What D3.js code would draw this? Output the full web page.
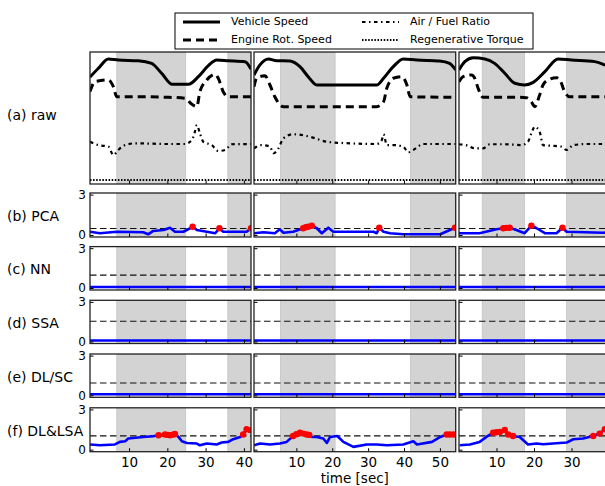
<!DOCTYPE html>
<html><head><meta charset="utf-8">
<script src="https://cdn.jsdelivr.net/npm/d3@7"></script>
<style>body{margin:0;background:#fff} svg{display:block;font-family:"DejaVu Sans",sans-serif}</style>
</head><body><svg id="c" width="605" height="486"></svg>
<script>
// ---------------- data ----------------
const rowLabels = ["(a) raw","(b) PCA","(c) NN","(d) SSA","(e) DL/SC","(f) DL&LSA"];
const legendLabels = ["Vehicle Speed","Engine Rot. Speed","Air / Fuel Ratio","Regenerative Torque"];
const xLabel = "time [sec]";
const xTicks = [[10,20,30,40],[10,20,30,40,50],[10,20,30]];
const yTicks = [0,3];
const xDomains = [[-0.2,41.85],[-1.8,54.4],[0,40.8]];
const shaded1 = [[6.8,24.8],[35.8,42]];
const shaded2 = [[5.6,20.8],[41.8,55]];
const shaded3 = [[6.2,17.5],[28.7,41]];
const thresholds = [0.48,0.97,1.53,0.93,1.03];

const speed1 = [[-0.2,0.81],[2.0,0.877],[4.6,0.947],[7.2,0.939],[12.4,0.934],[15.9,0.914],[18.5,0.839],[21.3,0.755],[25.5,0.755],[28.1,0.813],[30.7,0.896],[32.9,0.939],[35.9,0.934],[40.3,0.927],[41.85,0.87]];
const engine1 = [[-0.2,0.70],[1.1,0.775],[4.6,0.788],[5.9,0.737],[6.8,0.661],[11.6,0.661],[20.3,0.657],[24.6,0.649],[26.4,0.604],[27.7,0.586],[28.5,0.699],[30.3,0.788],[32.5,0.831],[33.3,0.801],[34.6,0.699],[35.9,0.661],[41.85,0.661]];
const afr1 = [[-0.2,0.320],[2.0,0.295],[4.6,0.283],[5.9,0.220],[7.2,0.258],[9.0,0.295],[11.6,0.308],[20.3,0.303],[24.6,0.303],[26.4,0.333],[27.2,0.396],[27.7,0.447],[28.5,0.384],[29.4,0.320],[31.6,0.295],[33.3,0.250],[35.1,0.258],[36.8,0.301],[41.85,0.303]];
const torque1 = [[-0.2,0.03],[41.85,0.03]];

const speed2 = [[-1.8,0.826],[-0.14,0.902],[2.2,0.947],[4.5,0.934],[8.2,0.932],[11.0,0.889],[13.3,0.813],[15.7,0.750],[25.0,0.750],[32.4,0.750],[34.3,0.801],[37.0,0.889],[39.8,0.947],[43.6,0.939],[49.9,0.932],[52.7,0.914],[54.4,0.864]];
const engine2 = [[-1.8,0.737],[-1.06,0.801],[1.26,0.820],[2.65,0.750],[4.0,0.661],[6.4,0.586],[32.4,0.586],[34.3,0.623],[35.2,0.725],[37.0,0.801],[39.4,0.813],[40.8,0.750],[41.7,0.661],[54.4,0.657]];
const afr2 = [[-1.8,0.270],[0.33,0.295],[2.65,0.283],[3.6,0.233],[5.0,0.270],[6.4,0.346],[9.1,0.377],[13.8,0.358],[18.5,0.320],[25.0,0.308],[32.4,0.303],[33.8,0.333],[34.3,0.377],[35.2,0.295],[37.0,0.295],[39.8,0.283],[41.2,0.240],[42.6,0.258],[45.4,0.303],[54.4,0.303]];
const torque2 = [[-1.8,0.03],[54.4,0.03]];

const speed3 = [[0,0.864],[1.55,0.927],[3.8,0.957],[6.9,0.947],[9.5,0.914],[12.2,0.839],[14.9,0.763],[17.5,0.750],[19.8,0.770],[22.9,0.851],[26.4,0.947],[30.0,0.939],[36.2,0.927],[38.9,0.902],[40.8,0.88]];
const engine3 = [[0,0.775],[1.1,0.813],[3.3,0.826],[4.2,0.801],[5.1,0.725],[6.4,0.657],[14.9,0.657],[18.0,0.654],[19.3,0.623],[20.2,0.586],[21.5,0.674],[22.4,0.750],[23.8,0.788],[26.0,0.805],[26.9,0.788],[28.2,0.699],[29.5,0.661],[40.8,0.661]];
const afr3 = [[0,0.301],[2.4,0.290],[4.2,0.270],[6.4,0.270],[8.2,0.301],[12.2,0.301],[16.7,0.295],[18.4,0.320],[19.3,0.384],[20.2,0.434],[21.5,0.396],[22.4,0.295],[24.6,0.290],[27.3,0.283],[28.7,0.258],[30.5,0.295],[34.5,0.303],[40.8,0.303]];
const torque3 = [[0,0.03],[40.8,0.03]];

const pca1 = [[-0.2,0.24],[2.4,0.13],[6.8,0.24],[13.7,0.2],[15.0,0.05],[16.3,0.3],[19.0,0.37],[20.7,0.54],[22.0,0.24],[24.2,0.24],[26.6,0.61],[27.7,0.37],[30.3,0.24],[32.5,0.13],[33.6,0.5],[34.6,0.24],[40.7,0.24],[41.85,0.5]];
const pcaRed1 = [[26.6,0.61],[33.6,0.5],[41.85,0.5]];
const pca2 = [[-1.8,0.13],[0.8,0.2],[4.0,0.13],[5.4,0.42],[6.4,0.17],[9.1,0.24],[11.9,0.5],[13.3,0.61],[14.3,0.69],[15.7,0.5],[17.1,0.13],[18.9,0.54],[20.3,0.24],[31.5,0.24],[32.4,0.13],[33.1,0.54],[34.3,0.24],[36.1,0.13],[39.8,0.05],[50.1,0.05],[54.2,0.54]];
const pcaRed2 = [[11.9,0.5],[12.6,0.58],[13.3,0.61],[14.3,0.69],[33.1,0.54],[54.2,0.54]];
const pca3 = [[0,0.13],[5.5,0.13],[10.0,0.42],[11.8,0.5],[13.5,0.54],[15.3,0.37],[17.5,0.13],[19.3,0.69],[20.7,0.5],[22.9,0.13],[26.0,0.13],[27.6,0.54],[28.7,0.24],[38.4,0.17],[40.8,0.2]];
const pcaRed3 = [[11.8,0.5],[12.6,0.53],[13.5,0.54],[19.3,0.69],[27.6,0.54]];

const nn = [[-2,0.08],[56,0.08]];
const ssa = [[-2,0.08],[56,0.08]];
const dlsc = [[-2,0.08],[56,0.08]];

const lsa1 = [[-0.2,0.39],[2.4,0.33],[6.3,0.39],[7.6,0.58],[9.0,0.63],[9.8,0.83],[11.1,0.87],[13.7,0.95],[16.3,1.0],[17.7,1.07],[19.4,1.13],[20.7,1.07],[22.0,1.17],[22.9,0.95],[23.8,0.63],[25.1,0.5],[27.7,0.46],[28.5,0.33],[30.3,0.46],[32.9,0.39],[34.2,0.53],[35.9,0.58],[37.2,0.78],[39.0,0.95],[39.8,1.13],[40.7,1.52],[41.85,1.44]];
const lsaRed1 = [[17.7,1.07],[19.4,1.13],[20.2,1.1],[20.7,1.07],[21.4,1.12],[22.0,1.17],[39.8,1.13],[40.7,1.52],[41.6,1.46]];
const lsa2 = [[-1.8,0.33],[-0.1,0.46],[2.65,0.39],[5.4,0.46],[7.3,0.58],[9.1,1.02],[11.0,1.27],[12.9,1.13],[14.3,0.95],[15.7,0.95],[17.5,0.83],[18.5,0.5],[19.4,0.95],[21.4,1.02],[23.1,0.58],[25.9,0.21],[29.6,0.39],[32.4,0.39],[35.2,0.33],[39.8,0.39],[42.6,0.63],[43.6,0.39],[47.8,0.58],[50.1,0.95],[51.9,1.13],[53.8,1.13],[54.4,1.1]];
const lsaRed2 = [[9.1,1.02],[10.0,1.15],[11.0,1.27],[12.0,1.2],[12.9,1.13],[13.6,1.1],[51.9,1.13],[52.8,1.13],[53.8,1.13]];
const lsa3 = [[0.2,0.33],[2.9,0.39],[5.5,0.58],[7.3,0.95],[9.1,1.27],[10.9,1.32],[12.2,1.47],[13.1,1.13],[14.4,1.02],[16.2,0.95],[18.4,0.39],[20.7,0.46],[22.4,0.41],[25.1,0.46],[28.7,0.53],[30.5,0.78],[33.1,0.83],[35.8,1.02],[37.5,1.2],[38.9,1.52],[40.8,1.6]];
const lsaRed3 = [[9.1,1.27],[10.0,1.3],[10.9,1.32],[12.2,1.47],[13.1,1.13],[14.4,1.02],[35.8,1.02],[37.5,1.2],[38.9,1.52]];

// ---------------- layout ----------------
const colRanges = [[90,251],[254,455.7],[459,612]];
const rowBoxes = [[52,184],[193,237],[246.6,290],[300.3,343.5],[354,397.3],[407.8,451.7]];
const shadedCols = [shaded1,shaded2,shaded3];
const rawCols = [[speed1,engine1,afr1,torque1],[speed2,engine2,afr2,torque2],[speed3,engine3,afr3,torque3]];
const blueRows = [[pca1,pca2,pca3],[nn,nn,nn],[ssa,ssa,ssa],[dlsc,dlsc,dlsc],[lsa1,lsa2,lsa3]];
const redRows = [[pcaRed1,pcaRed2,pcaRed3],null,null,null,[lsaRed1,lsaRed2,lsaRed3]];
const rawStyles = [
  {w:3, dash:null},
  {w:3, dash:"8,5"},
  {w:2.2, dash:"3.5,3.5,1.5,3.5"},
  {w:2, dash:"1.5,1.6"}
];

const svg = d3.select("#c");
let clipId = 0;

rowBoxes.forEach((rb, r) => {
  colRanges.forEach((cr, c) => {
    const x = d3.scaleLinear().domain(xDomains[c]).range(cr);
    const y = r === 0 ? d3.scaleLinear().domain([0,1]).range([rb[1], rb[0]])
                      : d3.scaleLinear().domain([-0.15,3.12]).range([rb[1], rb[0]]);
    const id = "clip" + (clipId++);
    svg.append("clipPath").attr("id", id).append("rect")
      .attr("x", cr[0]).attr("y", rb[0]).attr("width", cr[1]-cr[0]).attr("height", rb[1]-rb[0]);
    const g = svg.append("g");
    const inner = g.append("g").attr("clip-path", `url(#${id})`);
    inner.append("rect").attr("x", cr[0]).attr("y", rb[0]).attr("width", cr[1]-cr[0]).attr("height", rb[1]-rb[0]).attr("fill", "#fff");
    shadedCols[c].forEach(s => {
      inner.append("rect").attr("x", x(s[0])).attr("y", rb[0])
        .attr("width", x(s[1]) - x(s[0])).attr("height", rb[1]-rb[0])
        .attr("fill", "#d3d3d3").attr("stroke", "#c4c4c4").attr("stroke-width", 0.8);
    });
    if (r === 0) {
      rawCols[c].forEach((ser, k) => {
        const line = d3.line().x(d => x(d[0])).y(d => y(d[1])).curve(d3.curveMonotoneX);
        const p = inner.append("path").datum(ser).attr("d", line)
          .attr("fill", "none").attr("stroke", "#000").attr("stroke-width", rawStyles[k].w);
        if (rawStyles[k].dash) p.attr("stroke-dasharray", rawStyles[k].dash);
      });
    } else {
      const th = thresholds[r-1];
      inner.append("line").attr("x1", cr[0]).attr("x2", cr[1]).attr("y1", y(th)).attr("y2", y(th))
        .attr("stroke", "#111").attr("stroke-width", 1.1).attr("stroke-dasharray", "6.5,3.5");
      const line = d3.line().x(d => x(d[0])).y(d => y(d[1]));
      inner.append("path").datum(blueRows[r-1][c]).attr("d", line)
        .attr("fill", "none").attr("stroke", "#0000ff").attr("stroke-width", 2.6).attr("stroke-linejoin", "round");
      const reds = redRows[r-1];
      if (reds) {
        inner.selectAll("circle.red").data(reds[c]).enter().append("circle")
          .attr("cx", d => x(d[0])).attr("cy", d => y(d[1])).attr("r", 3.2).attr("fill", "#ff0000");
      }
      // y axis ticks
      const ya = d3.axisLeft(y).tickValues(yTicks).tickSize(-3.5).tickPadding(4).tickFormat(d3.format("d"));
      const yg = g.append("g").attr("transform", `translate(${cr[0]},0)`).call(ya);
      yg.select(".domain").remove();
      yg.selectAll("line").attr("stroke", "#000");
      yg.selectAll("text").attr("font-size", 12).attr("fill", "#000")
        .attr("font-family", "DejaVu Sans, sans-serif");
      if (c !== 0) yg.selectAll("text").remove();
    }
    // x axis ticks
    const xa = d3.axisBottom(x).tickValues(xTicks[c]).tickSize(-3.5).tickPadding(6);
    const xg = g.append("g").attr("transform", `translate(0,${rb[1]})`).call(xa);
    xg.select(".domain").remove();
    xg.selectAll("line").attr("stroke", "#000");
    xg.selectAll("text").attr("font-size", 13.5).attr("fill", "#000")
      .attr("font-family", "DejaVu Sans, sans-serif");
    if (r !== rowBoxes.length - 1) xg.selectAll("text").remove();
    // border
    g.append("rect").attr("x", cr[0]).attr("y", rb[0]).attr("width", cr[1]-cr[0]).attr("height", rb[1]-rb[0])
      .attr("fill", "none").attr("stroke", "#222").attr("stroke-width", 1.3);
  });
  // row label
  const cy = r === 0 ? (rb[0]+rb[1])/2 - 2 : (rb[0]+rb[1])/2 + 2;
  svg.append("text").attr("x", 7).attr("y", cy).attr("dominant-baseline", "middle")
    .attr("font-size", 14).attr("fill", "#000").text(rowLabels[r]);
});

// x label
svg.append("text").attr("x", (colRanges[1][0]+colRanges[1][1])/2).attr("y", 482.5)
  .attr("text-anchor", "middle").attr("font-size", 13.5).attr("fill", "#000").text(xLabel);

// legend
const lg = svg.append("g");
lg.append("rect").attr("x", 175).attr("y", 13).attr("width", 358).attr("height", 36)
  .attr("fill", "#fff").attr("stroke", "#000").attr("stroke-width", 1);
const legPos = [[183,22],[183,40],[362,22],[362,40]];
legendLabels.forEach((lab, k) => {
  const [lx, ly] = legPos[k];
  const ln = lg.append("line").attr("x1", lx).attr("x2", lx+37).attr("y1", ly).attr("y2", ly)
    .attr("stroke", "#000").attr("stroke-width", rawStyles[k].w);
  if (rawStyles[k].dash) ln.attr("stroke-dasharray", rawStyles[k].dash);
  lg.append("text").attr("x", lx+48).attr("y", ly).attr("dominant-baseline", "middle")
    .attr("font-size", 11).attr("fill", "#000").text(lab);
});
</script></body></html>
